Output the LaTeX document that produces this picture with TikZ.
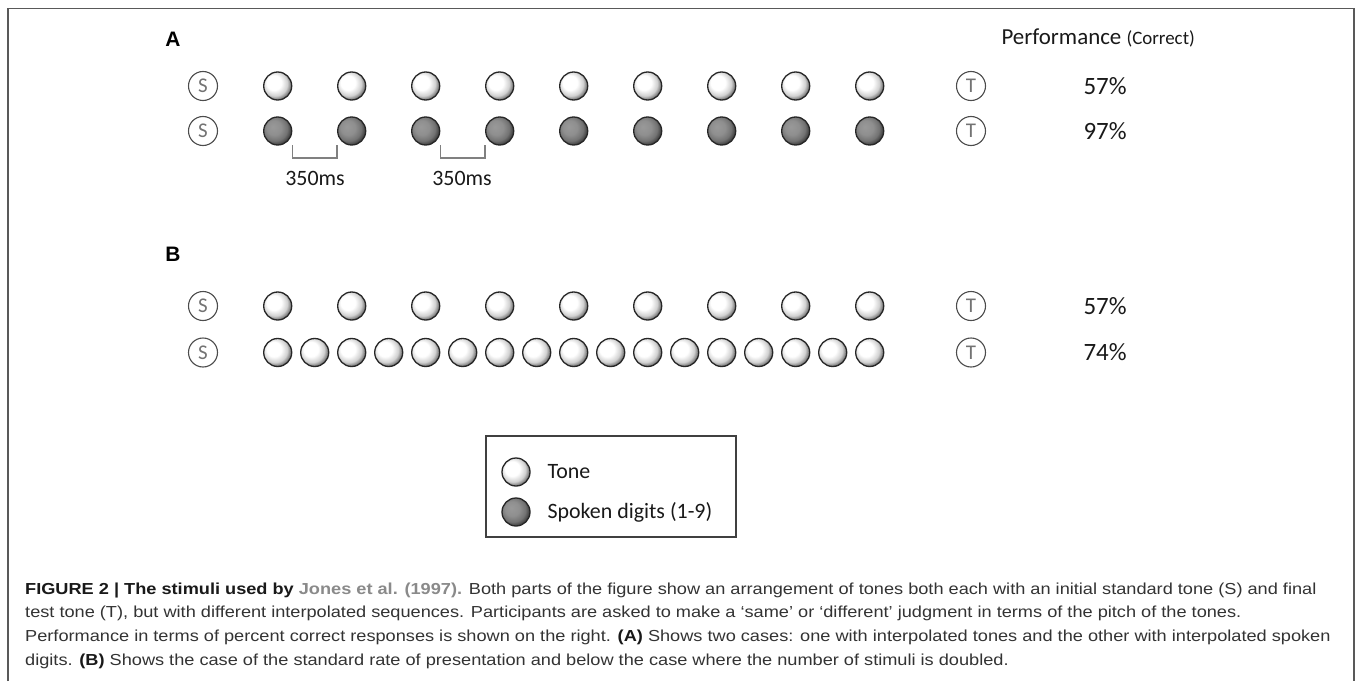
\documentclass[tikz,border=0pt]{standalone}
\usepackage{fontspec}
\setmainfont{Carlito}
\newfontfamily\capfont[FakeStretch=1.14]{Liberation Sans}
\newfontfamily\panelfont{Liberation Sans}
\pgfdeclareradialshading{toneball}{\pgfpoint{-9bp}{8bp}}{color(0bp)=(white); color(13bp)=(white); color(22bp)=(black!18); color(28bp)=(black!55); color(50bp)=(black!55)}
\pgfdeclareradialshading{digitball}{\pgfpoint{-9bp}{8bp}}{color(0bp)=(black!40); color(13bp)=(black!44); color(22bp)=(black!55); color(28bp)=(black!75); color(50bp)=(black!75)}
\definecolor{captext}{HTML}{333333}
\definecolor{linkgray}{HTML}{8A8A8A}
\tikzset{
  tone/.style={circle, minimum size=28bp, inner sep=0pt, draw=black!85, line width=1.3bp, shading=toneball},
  digit/.style={circle, minimum size=28bp, inner sep=0pt, draw=black!85, line width=1.3bp, shading=digitball},
  endpt/.style={circle, minimum size=29bp, inner sep=0pt, draw=black!70, line width=1.1bp, fill=white, text=black!55, font=\fontsize{21}{21}\selectfont},
  pct/.style={font=\fontsize{25}{25}\selectfont, text=black!90, anchor=west},
  panel/.style={font=\panelfont\bfseries\fontsize{21}{21}\selectfont, text=black},
  bracket/.style={draw=black!50, line width=1.3bp},
  mslabel/.style={font=\fontsize{22}{22}\selectfont, text=black!90},
  legendtext/.style={font=\fontsize{22}{22}\selectfont, text=black!90, anchor=west},
  capline/.style={font=\capfont\fontsize{16}{16}\selectfont, text=captext, anchor=base west, inner sep=0pt},
  frameline/.style={draw=black!65, line width=1.5bp}
}
\begin{document}
\begin{tikzpicture}[x=1bp, y=-1bp]
\useasboundingbox (0,0) rectangle (1358,681);
\fill[white] (0,0) rectangle (1358,681);
% frame
\coordinate (fbl) at (8,681);
\coordinate (ftl) at (8,8.5);
\coordinate (ftr) at (1354,8.5);
\coordinate (fbr) at (1354,681);
\draw[frameline] (fbl) -- (ftl) -- (ftr) -- (fbr);

% headings
\node[panel] (lblA) at (173,39) {A};
\node[panel] (lblB) at (173,254) {B};
\node[anchor=base east, inner sep=0pt, text=black!90] (perf) at (1195,45) {\fontsize{23}{23}\selectfont Performance \fontsize{19}{19}\selectfont(Correct)};

% Row A1: tones
\node[endpt] (sA1) at (203,86) {S};
\foreach \k in {0,...,8} { \node[tone] (a1c\k) at (277.7+74*\k,86) {}; }
\node[endpt] (tA1) at (971,86) {T};
\node[pct] (pA1) at (1080,86) {57\%};

% Row A2: spoken digits
\node[endpt] (sA2) at (203,131) {S};
\foreach \k in {0,...,8} { \node[digit] (a2c\k) at (277.7+74*\k,131) {}; }
\node[endpt] (tA2) at (971,131) {T};
\node[pct] (pA2) at (1080,131) {97\%};

% brackets
\draw[bracket] (a2c0.east |- 0,145) -- (a2c0.east |- 0,158) -- (a2c1.west |- 0,158) -- (a2c1.west |- 0,145);
\draw[bracket] (a2c2.east |- 0,145) -- (a2c2.east |- 0,158) -- (a2c3.west |- 0,158) -- (a2c3.west |- 0,145);
\node[mslabel] (ms1) at (315,178) {350ms};
\node[mslabel] (ms2) at (462,178) {350ms};

% Row B1
\node[endpt] (sB1) at (203,306) {S};
\foreach \k in {0,...,8} { \node[tone] (b1c\k) at (277.7+74*\k,306) {}; }
\node[endpt] (tB1) at (971,306) {T};
\node[pct] (pB1) at (1080,306) {57\%};

% Row B2
\node[endpt] (sB2) at (203,352.5) {S};
\foreach \k in {0,...,16} { \node[tone] (b2c\k) at (277.7+37*\k,352.5) {}; }
\node[endpt] (tB2) at (971,352.5) {T};
\node[pct] (pB2) at (1080,352.5) {74\%};

% legend
\node[draw=black!75, line width=1.2bp, minimum width=250bp, minimum height=101bp, inner sep=0pt] (legend) at (611,486.5) {};
\node[tone] (legtone) at (516,472) {};
\node[legendtext] (legtonetxt) at (544,472) {Tone};
\node[digit] (legdigit) at (516,512) {};
\node[legendtext] (legdigittxt) at (544,512) {Spoken digits (1-9)};

% caption
\node[capline] (cap1) at (25,594) {\textbf{\color{black!90}FIGURE 2 | The stimuli used by} \textbf{\color{linkgray}Jones et al. (1997).} Both parts of the figure show an arrangement of tones both each with an initial standard tone (S) and final};
\node[capline] (cap2) at (25,617.5) {test tone (T), but with different interpolated sequences. Participants are asked to make a ‘same’ or ‘different’ judgment in terms of the pitch of the tones.};
\node[capline] (cap3) at (25,641) {Performance in terms of percent correct responses is shown on the right. \textbf{\color{black!90}(A)} Shows two cases: one with interpolated tones and the other with interpolated spoken};
\node[capline] (cap4) at (25,665) {digits. \textbf{\color{black!90}(B)} Shows the case of the standard rate of presentation and below the case where the number of stimuli is doubled.};
\end{tikzpicture}
\end{document}
